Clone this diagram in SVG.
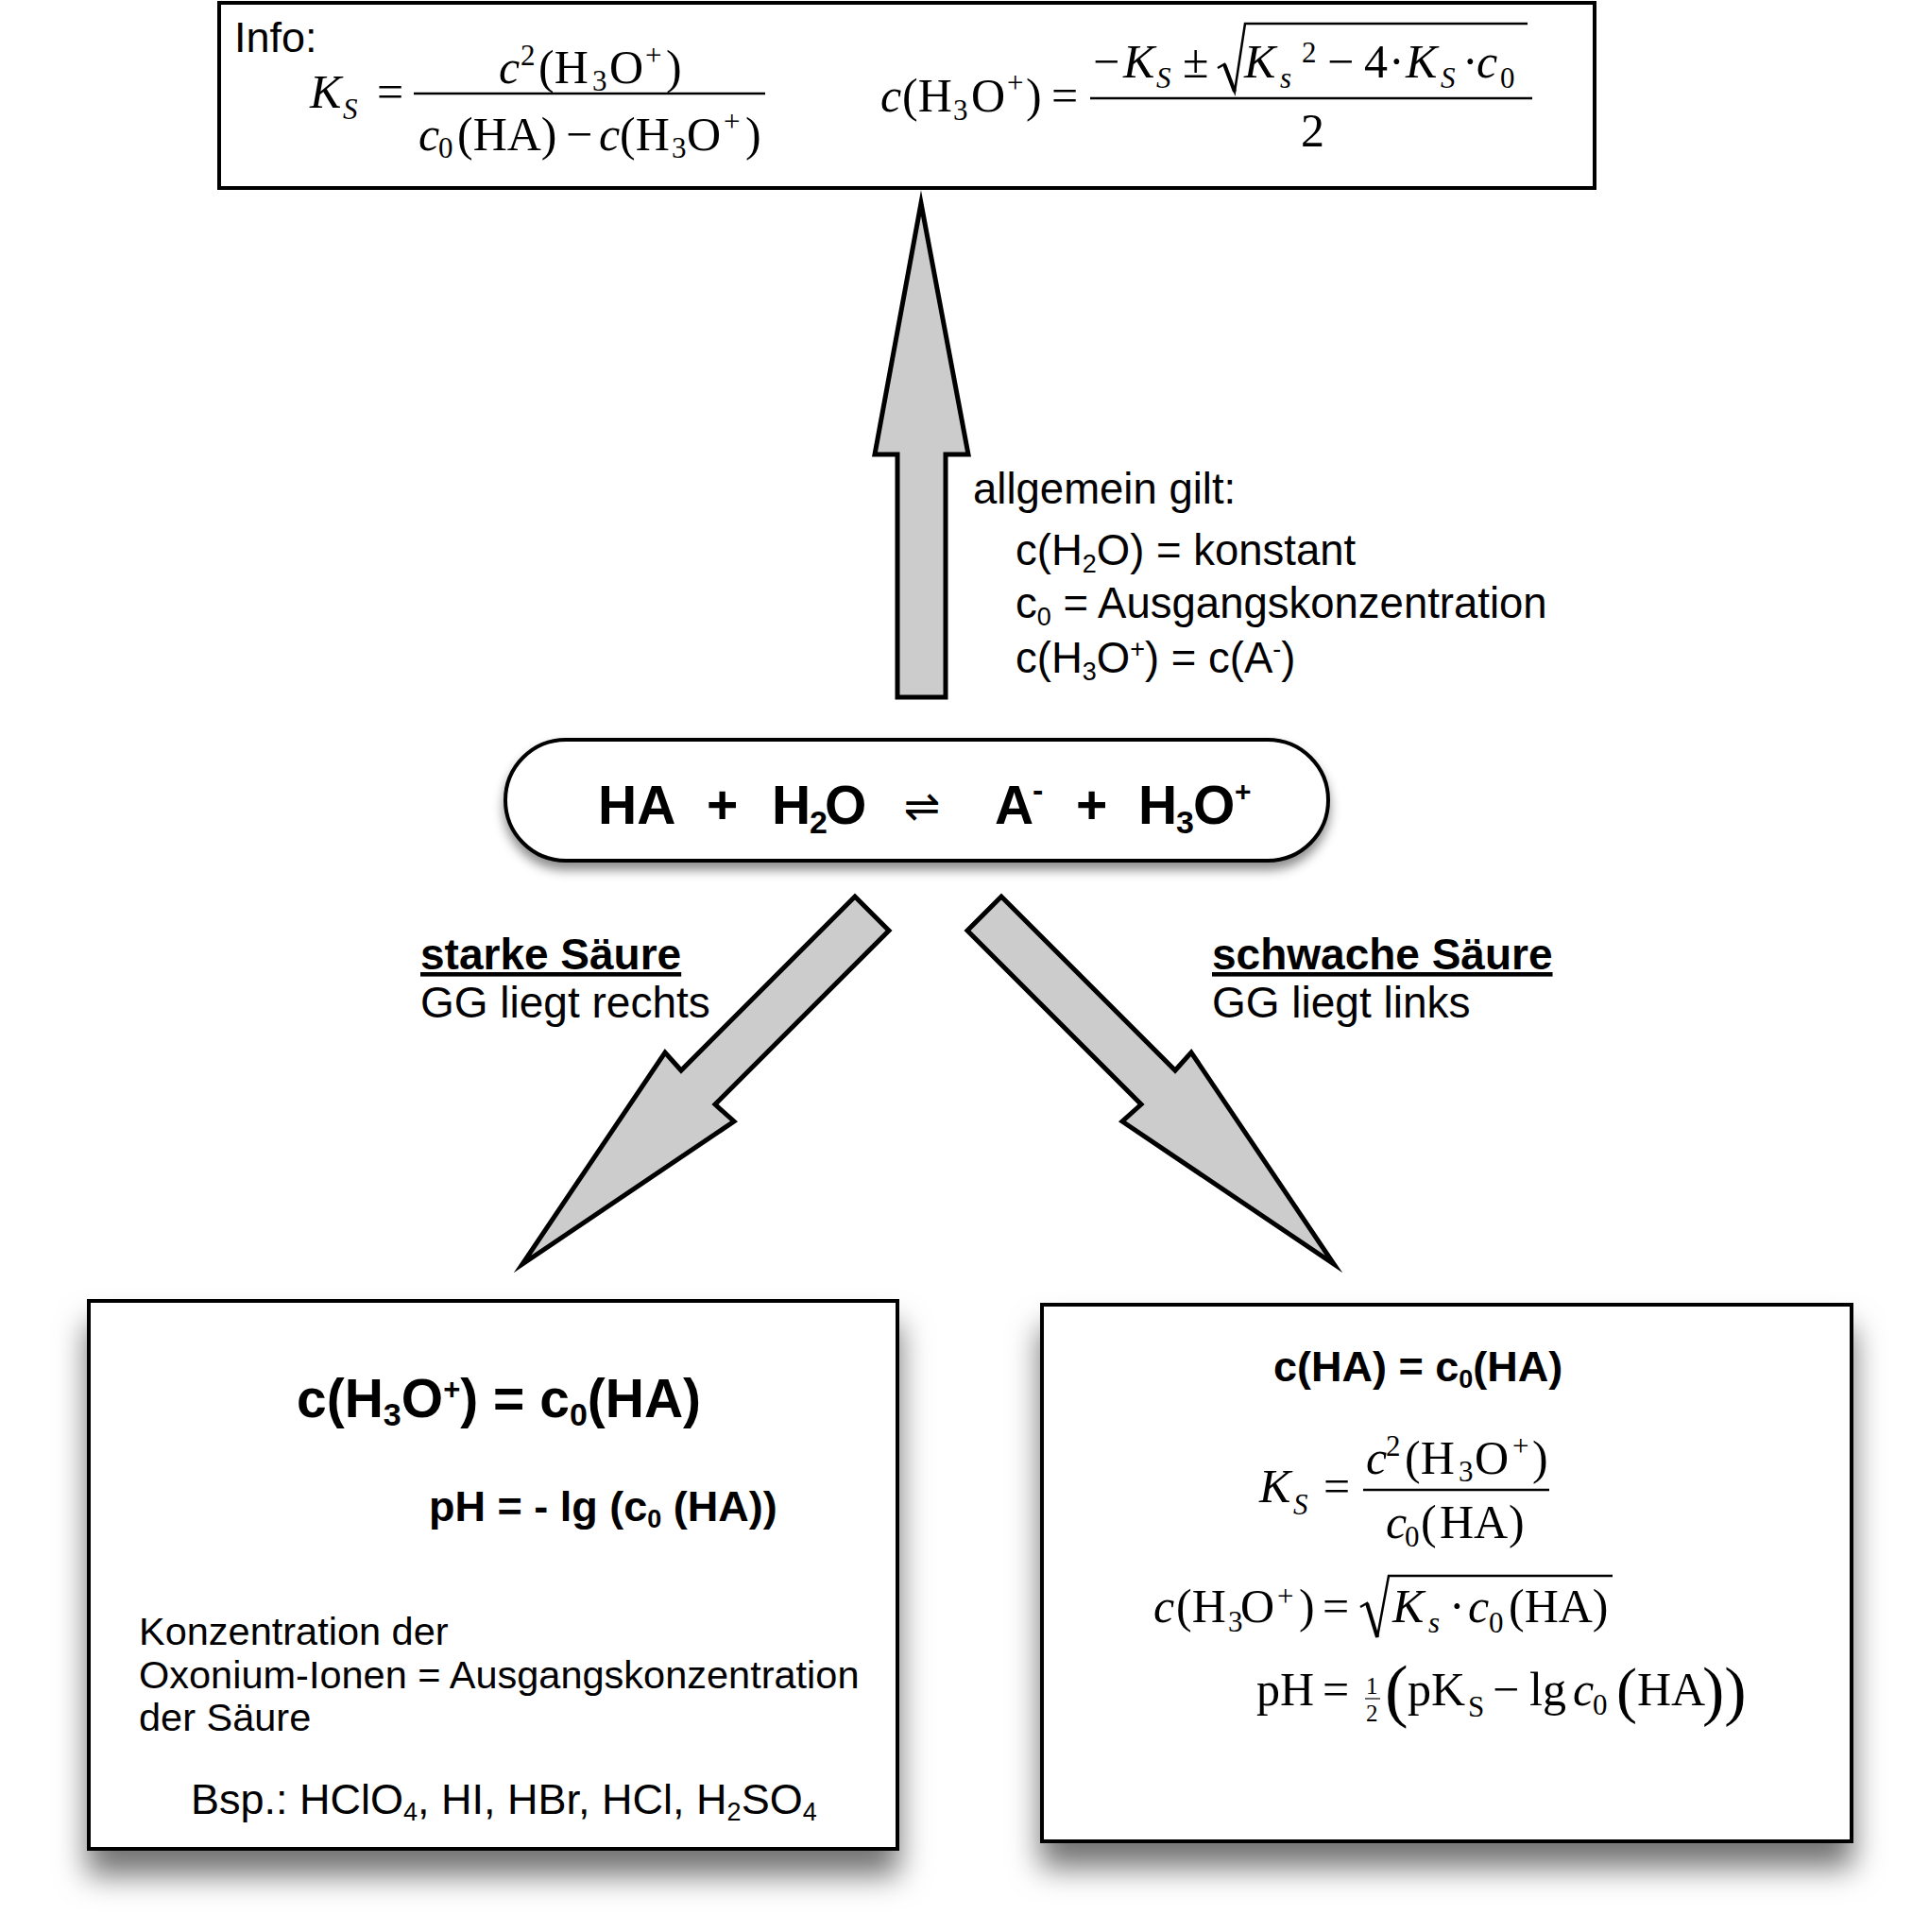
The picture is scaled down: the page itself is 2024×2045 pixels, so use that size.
<svg xmlns="http://www.w3.org/2000/svg" width="2024" height="2045" viewBox="0 0 2024 2045">
<style>
.sans{font-family:"Liberation Sans",Arial,sans-serif}
.serif{font-family:"Liberation Serif","Times New Roman",serif}
.it{font-style:italic}
.b{font-weight:bold}
.box{fill:#fff;stroke:#000;stroke-width:4}
.arrow{fill:#cccccc;stroke:#000;stroke-width:5;stroke-linejoin:miter;stroke-miterlimit:20}
.rule{stroke:#000;stroke-width:2.5;fill:none}
</style>
<defs>
<filter id="boxShadow" x="-15%" y="-15%" width="130%" height="135%">
<feDropShadow dx="0" dy="26" stdDeviation="16" flood-color="#000" flood-opacity="0.55"/>
</filter>
<filter id="pillShadow" x="-10%" y="-20%" width="120%" height="150%">
<feDropShadow dx="0" dy="8" stdDeviation="6" flood-color="#000" flood-opacity="0.45"/>
</filter>
</defs>
<rect width="2024" height="2045" fill="#fff"/>

<g id="connectors">
<polygon class="arrow" points="975,215 1025,481 1001,481 1001,738 950,738 950,481 926,481"/>
<polygon class="arrow" points="905,949 941,985 757,1169 777,1187 553,1338 704,1114 721,1133"/>
<polygon class="arrow" points="1060,949 1024,985 1208,1169 1188,1187 1412,1338 1261,1114 1244,1133"/>
</g>

<g id="info-box">
<rect class="box" x="232" y="3" width="1456" height="196" stroke-width="3.5"/>
<text class="sans" x="248" y="55" font-size="45">Info:</text>
<text class="serif" font-size="50"><tspan class="it" x="328" y="114">K</tspan><tspan class="it" x="363" y="126" font-size="31">S</tspan><tspan x="399" y="114">=</tspan><tspan class="it" x="528" y="88">c</tspan><tspan x="551" y="69" font-size="31">2</tspan><tspan x="570" y="88">(H</tspan><tspan x="627" y="96" font-size="31">3</tspan><tspan x="645" y="88">O</tspan><tspan x="683" y="69" font-size="31">+</tspan><tspan x="705" y="88">)</tspan><tspan class="it" x="443" y="159">c</tspan><tspan x="464" y="167" font-size="31">0</tspan><tspan x="484" y="159">(HA)</tspan><tspan x="599" y="159">−</tspan><tspan class="it" x="634" y="159">c</tspan><tspan x="656" y="159">(H</tspan><tspan x="711" y="167" font-size="31">3</tspan><tspan x="727" y="159">O</tspan><tspan x="766" y="139" font-size="31">+</tspan><tspan x="789" y="159">)</tspan></text>
<line class="rule" x1="438" y1="99" x2="810" y2="99"/>
<text class="serif" font-size="50"><tspan class="it" x="932" y="118">c</tspan><tspan x="955" y="118">(H</tspan><tspan x="1009" y="127" font-size="31">3</tspan><tspan x="1028" y="118">O</tspan><tspan x="1066" y="98" font-size="31">+</tspan><tspan x="1086" y="118">)</tspan><tspan x="1113" y="118">=</tspan><tspan x="1157" y="82">−</tspan><tspan class="it" x="1189" y="82">K</tspan><tspan class="it" x="1224" y="93" font-size="31">S</tspan><tspan x="1252" y="82">±</tspan><tspan class="it" x="1317" y="82">K</tspan><tspan class="it" x="1355" y="93" font-size="31">s</tspan><tspan x="1378" y="66" font-size="31">2</tspan><tspan x="1405" y="82">−</tspan><tspan x="1444" y="82">4</tspan><tspan x="1470" y="82">·</tspan><tspan class="it" x="1488" y="82">K</tspan><tspan class="it" x="1525" y="93" font-size="31">S</tspan><tspan x="1548" y="82">·</tspan><tspan class="it" x="1563" y="82">c</tspan><tspan x="1588" y="93" font-size="31">0</tspan><tspan x="1377" y="155">2</tspan></text>
<path class="rule" d="M1289,72 L1296,68 L1307,97 L1318,25 L1617,25"/>
<path d="M1296,68 L1307,97" stroke="#000" stroke-width="4"/>
<line class="rule" x1="1154" y1="104" x2="1622" y2="104"/>
</g>

<g id="general-note">
<text class="sans" x="1030" y="533" font-size="45.5">allgemein gilt:</text>
<text class="sans" x="1075" y="598" font-size="45.5">c(H<tspan y="606" font-size="27">2</tspan><tspan y="598">O) = konstant</tspan></text>
<text class="sans" x="1075" y="654" font-size="45.5">c<tspan y="662" font-size="27">0</tspan><tspan y="654"> = Ausgangskonzentration</tspan></text>
<text class="sans" x="1075" y="712" font-size="45.5">c(H<tspan y="720" font-size="27">3</tspan><tspan y="712">O</tspan><tspan y="696" font-size="27">+</tspan><tspan y="712">) = c(A</tspan><tspan y="696" font-size="27">-</tspan><tspan y="712">)</tspan></text>
</g>

<g id="equation">
<rect class="box" x="535" y="783" width="871" height="128" rx="64" filter="url(#pillShadow)"/>
<text class="sans b" font-size="57"><tspan x="633" y="872">HA</tspan><tspan x="748" y="872">+</tspan><tspan x="817" y="872">H</tspan><tspan x="857" y="882" font-size="34">2</tspan><tspan x="873" y="872">O</tspan><tspan x="1053" y="872">A</tspan><tspan x="1093" y="848" font-size="34">-</tspan><tspan x="1139" y="872">+</tspan><tspan x="1205" y="872">H</tspan><tspan x="1245" y="882" font-size="34">3</tspan><tspan x="1263" y="872">O</tspan><tspan x="1307" y="848" font-size="30">+</tspan></text>
<text font-family="DejaVu Sans, sans-serif" font-size="46" x="976" y="869" text-anchor="middle">⇌</text>
</g>

<g id="label-strong">
<text class="sans b" x="445" y="1026" font-size="46" text-decoration="underline">starke Säure</text>
<text class="sans" x="445" y="1077" font-size="46">GG liegt rechts</text>
</g>

<g id="label-weak">
<text class="sans b" x="1283" y="1026" font-size="46" text-decoration="underline">schwache Säure</text>
<text class="sans" x="1283" y="1077" font-size="46">GG liegt links</text>
</g>

<g id="strong-acid-box">
<rect class="box" x="94" y="1377" width="856" height="580" filter="url(#boxShadow)"/>
<text class="sans b" x="314" y="1500" font-size="57">c(H<tspan y="1509" font-size="34">3</tspan><tspan y="1500">O</tspan><tspan y="1481" font-size="31">+</tspan><tspan y="1500">) = c</tspan><tspan y="1509" font-size="34">0</tspan><tspan y="1500">(HA)</tspan></text>
<text class="sans b" x="454" y="1610" font-size="45">pH = - lg (c<tspan y="1617" font-size="27">0</tspan><tspan y="1610"> (HA))</tspan></text>
<text class="sans" x="147" y="1741" font-size="41.5">Konzentration der</text>
<text class="sans" x="147" y="1787" font-size="41.5">Oxonium-Ionen = Ausgangskonzentration</text>
<text class="sans" x="147" y="1832" font-size="41.5">der Säure</text>
<text class="sans" x="202" y="1920" font-size="45">Bsp.: HClO<tspan y="1927" font-size="27">4</tspan><tspan y="1920">, HI, HBr, HCl, H</tspan><tspan y="1927" font-size="27">2</tspan><tspan y="1920">SO</tspan><tspan y="1927" font-size="27">4</tspan></text>
</g>

<g id="weak-acid-box">
<rect class="box" x="1103" y="1381" width="857" height="568" filter="url(#boxShadow)"/>
<text class="sans b" x="1348" y="1462" font-size="45">c(HA) = c<tspan y="1469" font-size="27">0</tspan><tspan y="1462">(HA)</tspan></text>
<text class="serif" font-size="50"><tspan class="it" x="1333" y="1590">K</tspan><tspan class="it" x="1369" y="1603" font-size="31">S</tspan><tspan x="1401" y="1590">=</tspan><tspan class="it" x="1446" y="1560">c</tspan><tspan x="1467" y="1541" font-size="31">2</tspan><tspan x="1487" y="1560">(H</tspan><tspan x="1544" y="1568" font-size="31">3</tspan><tspan x="1561" y="1560">O</tspan><tspan x="1601" y="1541" font-size="31">+</tspan><tspan x="1622" y="1560">)</tspan><tspan class="it" x="1467" y="1628">c</tspan><tspan x="1487" y="1637" font-size="31">0</tspan><tspan x="1504" y="1628">(</tspan><tspan x="1524" y="1628">HA</tspan><tspan x="1597" y="1628">)</tspan></text>
<line class="rule" x1="1443" y1="1577" x2="1640" y2="1577"/>
<text class="serif" font-size="50"><tspan class="it" x="1221" y="1717">c</tspan><tspan x="1245" y="1717">(H</tspan><tspan x="1300" y="1727" font-size="31">3</tspan><tspan x="1313" y="1717">O</tspan><tspan x="1352" y="1700" font-size="31">+</tspan><tspan x="1375" y="1717">)</tspan><tspan x="1400" y="1717">=</tspan><tspan class="it" x="1474" y="1717">K</tspan><tspan class="it" x="1512" y="1728" font-size="31">s</tspan><tspan x="1534" y="1717">·</tspan><tspan class="it" x="1554" y="1717">c</tspan><tspan x="1576" y="1728" font-size="31">0</tspan><tspan x="1597" y="1717">(HA)</tspan></text>
<path class="rule" d="M1440,1701 L1447,1697 L1458,1733 L1470,1668 L1707,1668"/>
<path d="M1447,1697 L1458,1733" stroke="#000" stroke-width="4"/>
<text class="serif" font-size="50"><tspan x="1330" y="1805">pH</tspan><tspan x="1400" y="1805">=</tspan><tspan x="1446" y="1793" font-size="25">1</tspan><tspan x="1446" y="1822" font-size="25">2</tspan><tspan x="1466" y="1814" font-size="74">(</tspan><tspan x="1490" y="1805">pK</tspan><tspan x="1554" y="1817" font-size="31">S</tspan><tspan x="1580" y="1805">−</tspan><tspan x="1619" y="1805">lg</tspan><tspan class="it" x="1665" y="1805">c</tspan><tspan x="1686" y="1815" font-size="31">0</tspan><tspan x="1711" y="1811" font-size="66">(</tspan><tspan x="1733" y="1805">HA</tspan><tspan x="1802" y="1813" font-size="70">))</tspan></text>
<line x1="1445" y1="1798" x2="1461" y2="1798" stroke="#000" stroke-width="1.2"/>
</g>
</svg>
